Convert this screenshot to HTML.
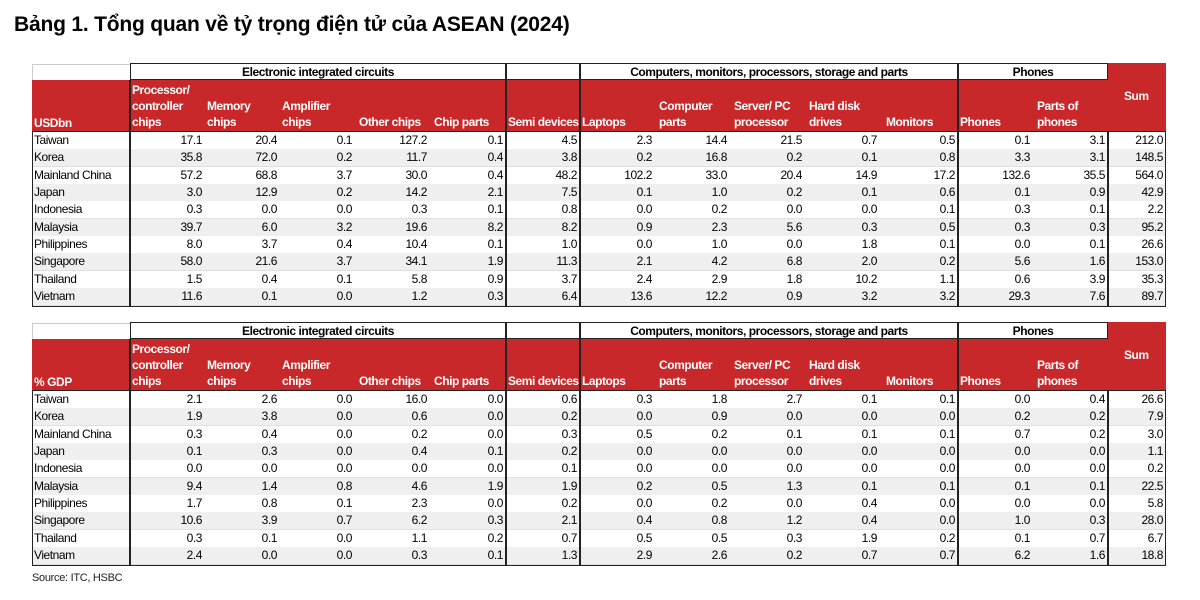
<!DOCTYPE html>
<html><head><meta charset="utf-8">
<style>
body{margin:0;width:1200px;height:600px;background:#fff;position:relative;overflow:hidden;font-family:"Liberation Sans",sans-serif;}
.t{position:absolute;left:14px;top:13px;font:bold 21px "Liberation Sans",sans-serif;color:#000;letter-spacing:-0.2px;}
.c{position:absolute;box-sizing:border-box;font-size:12px;line-height:13px;color:#000;white-space:nowrap;overflow:hidden;letter-spacing:-0.45px;}
.src{position:absolute;left:32px;top:572px;font-size:11px;color:#222;letter-spacing:-0.3px;}
</style></head><body>
<div class="t">Bảng 1. Tổng quan về tỷ trọng điện tử của ASEAN (2024)</div>
<div id="root"></div>
<div class="src">Source: ITC, HSBC</div>
<script>
const countries=["Taiwan","Korea","Mainland China","Japan","Indonesia","Malaysia","Philippines","Singapore","Thailand","Vietnam"];
const headers=[["Processor/","controller","chips"],["Memory","chips"],["Amplifier","chips"],["Other chips"],["Chip parts"],["Semi devices"],["Laptops"],["Computer","parts"],["Server/ PC","processor"],["Hard disk","drives"],["Monitors"],["Phones"],["Parts of","phones"]];
const hpad=[2,2,2,4,4,2,2,4,4,4,6,2,4];
const usd=[
[17.1,20.4,0.1,127.2,0.1,4.5,2.3,14.4,21.5,0.7,0.5,0.1,3.1,212.0],
[35.8,72.0,0.2,11.7,0.4,3.8,0.2,16.8,0.2,0.1,0.8,3.3,3.1,148.5],
[57.2,68.8,3.7,30.0,0.4,48.2,102.2,33.0,20.4,14.9,17.2,132.6,35.5,564.0],
[3.0,12.9,0.2,14.2,2.1,7.5,0.1,1.0,0.2,0.1,0.6,0.1,0.9,42.9],
[0.3,0.0,0.0,0.3,0.1,0.8,0.0,0.2,0.0,0.0,0.1,0.3,0.1,2.2],
[39.7,6.0,3.2,19.6,8.2,8.2,0.9,2.3,5.6,0.3,0.5,0.3,0.3,95.2],
[8.0,3.7,0.4,10.4,0.1,1.0,0.0,1.0,0.0,1.8,0.1,0.0,0.1,26.6],
[58.0,21.6,3.7,34.1,1.9,11.3,2.1,4.2,6.8,2.0,0.2,5.6,1.6,153.0],
[1.5,0.4,0.1,5.8,0.9,3.7,2.4,2.9,1.8,10.2,1.1,0.6,3.9,35.3],
[11.6,0.1,0.0,1.2,0.3,6.4,13.6,12.2,0.9,3.2,3.2,29.3,7.6,89.7]];
const gdp=[
[2.1,2.6,0.0,16.0,0.0,0.6,0.3,1.8,2.7,0.1,0.1,0.0,0.4,26.6],
[1.9,3.8,0.0,0.6,0.0,0.2,0.0,0.9,0.0,0.0,0.0,0.2,0.2,7.9],
[0.3,0.4,0.0,0.2,0.0,0.3,0.5,0.2,0.1,0.1,0.1,0.7,0.2,3.0],
[0.1,0.3,0.0,0.4,0.1,0.2,0.0,0.0,0.0,0.0,0.0,0.0,0.0,1.1],
[0.0,0.0,0.0,0.0,0.0,0.1,0.0,0.0,0.0,0.0,0.0,0.0,0.0,0.2],
[9.4,1.4,0.8,4.6,1.9,1.9,0.2,0.5,1.3,0.1,0.1,0.1,0.1,22.5],
[1.7,0.8,0.1,2.3,0.0,0.2,0.0,0.2,0.0,0.4,0.0,0.0,0.0,5.8],
[10.6,3.9,0.7,6.2,0.3,2.1,0.4,0.8,1.2,0.4,0.0,1.0,0.3,28.0],
[0.3,0.1,0.0,1.1,0.2,0.7,0.5,0.5,0.3,1.9,0.2,0.1,0.7,6.7],
[2.4,0.0,0.0,0.3,0.1,1.3,2.9,2.6,0.2,0.7,0.7,6.2,1.6,18.8]];
const xs=[32,130,205,280,355,430,506,580,655,730,805,880,958,1033,1108,1166];
const thick=[130,506,580,958,1108];
const RED="#c8282a";
const root=document.getElementById('root');
function cell(x,y,w,h,css,html){const d=document.createElement('div');d.className='c';d.style.cssText=`left:${x}px;top:${y}px;width:${w}px;height:${h}px;`+css;d.innerHTML=html;root.appendChild(d);return d;}
function table(top,label,data,name){
  const gTop=top,rTop=top+17,dTop=top+69,rh=17.35;
  const bottom=dTop+rh*10;
  let g=cell(130,gTop,376,17,"border:1px solid #222;text-align:center;font-weight:bold;line-height:16px;","Electronic integrated circuits");
  
  g=cell(506,gTop,74,17,"border:1px solid #222;","");
  
  g=cell(580,gTop,378,17,"border:1px solid #222;text-align:center;font-weight:bold;line-height:16px;","Computers, monitors, processors, storage and parts");
  
  g=cell(958,gTop,150,17,"border:1px solid #222;text-align:center;font-weight:bold;line-height:16px;","Phones");
  
  g=cell(32,gTop+1,98,16,"border-top:1px solid #ccc;border-left:1px solid #ccc;","");
  
  g=cell(32,rTop,1076,52,"background:"+RED+";","");
  
  g=cell(1108,gTop,58,69,"background:"+RED+";color:#fff;font-weight:bold;padding:27px 0 0 16px;","Sum");
  
  g=cell(34,rTop,96,52,"color:#fff;font-weight:bold;padding-top:37px;",label);
  
  headers.forEach((hd,i)=>{
    const pad=52-hd.length*16-2;
    let h=cell(xs[i+1]+hpad[i],rTop,xs[i+2]-xs[i+1]-hpad[i],52,`color:#fff;font-weight:bold;padding-top:${pad}px;line-height:16px;`,hd.join('<br>'));
    
  });
  thick.forEach(x=>{if(x!==1108){let l=cell(x-1,rTop,2,52,"background:#222;","");}});
  data.forEach((row,r)=>{
    const y=dTop+r*rh;
    let bg=cell(32,y,1134,rh+0.5,"background:"+(r%2?"#efefef":"#fff")+";border-bottom:1px solid #e0e0e0;","");
    
    let c=cell(34,y+2,96,14,"",countries[r]);
    
    row.forEach((v,i)=>{
      let t=cell(xs[i+1],y+2,xs[i+2]-xs[i+1]-3,14,"text-align:right;",v.toFixed(1));
      
    });
  });
  let b=cell(32,dTop-1,1134,bottom-dTop+2,"border:1.5px solid #222;","");
  
  thick.forEach(x=>{let l=cell(x-1,dTop,1.5,bottom-dTop,"background:#222;","");});
}
table(63,"USDbn",usd,"usd-table");
table(322,"% GDP",gdp,"gdp-table");
</script>
</body></html>
